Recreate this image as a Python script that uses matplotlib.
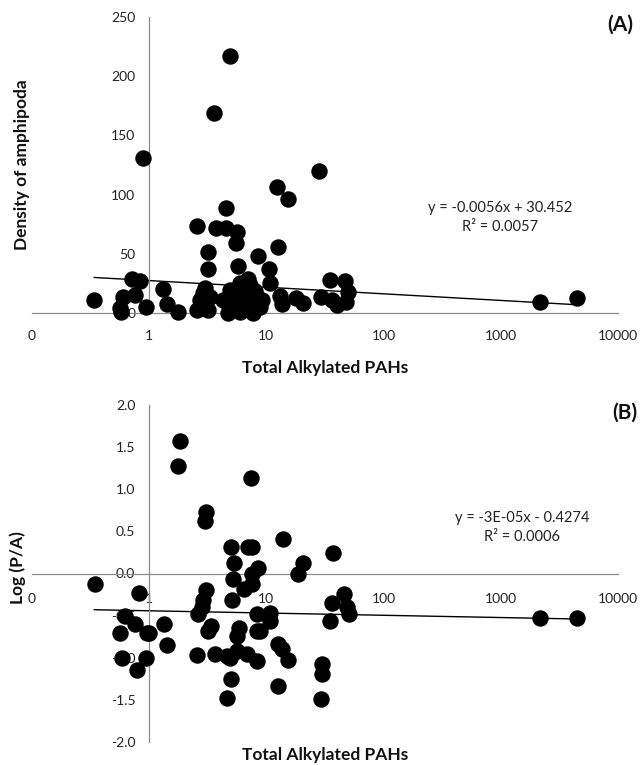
import matplotlib
matplotlib.use("Agg")
import matplotlib.pyplot as plt
import numpy as np

plt.rcParams['font.family'] = ['Lato', 'DejaVu Sans']

# ---------------- Panel A data ----------------
a_x = [0.34, 0.56, 0.58, 0.60, 0.72, 0.76, 0.83, 0.88, 0.94, 1.31, 1.41, 1.77,
       2.55, 2.7, 2.9, 3.16, 3.16, 3.56, 3.7, 4.5, 4.5, 4.9, 5.6, 5.5, 5.7, 6.9,
       8.5, 10.5, 10.7, 12.5, 12.3, 15.2, 28, 13.0, 13.5, 18, 20.5, 29, 35, 36,
       40, 47, 50, 48, 2140, 4430,
       2.99, 2.7, 2.55, 3.3, 3.16,
       4.9, 5.6, 7.2, 8.3, 7.65, 4.7, 6.3, 8.8, 4.3, 6.6, 8.0, 5.9, 9.1, 5.3,
       6.0, 7.0, 7.5, 6.5, 8.5, 7.3]
a_y = [11, 4, 1, 13.5, 28.7, 15, 27, 131, 5, 20, 8, 1,
       73.5, 4, 17, 51.5, 37, 169, 72, 72, 88.7, 217, 68.4, 59, 39.7, 28.7,
       48, 37, 25, 55.7, 106.5, 96, 120, 14, 8, 12.7, 8.4, 13.5, 28, 11,
       6.8, 27, 17.7, 9.3, 9.3, 12.7,
       21, 11, 2.5, 13.5, 2.5,
       19.4, 5, 11, 13.5, 0, 0, 22, 5, 11, 11, 19, 1, 11, 13.5,
       25, 20, 15, 3, 8, 24]
a_trend_x = [0.34, 4430]
a_trend_y = [30, 7]
a_yticks = [0, 50, 100, 150, 200, 250]

# ---------------- Panel B data ----------------
b_x = [0.344, 0.82, 0.62, 0.76, 0.56, 0.95, 1.0, 1.33, 1.41, 0.59, 0.93, 0.79,
       1.83, 1.76, 3.04, 3.0, 3.04, 2.86, 2.8, 2.6, 3.4, 3.17, 2.55, 3.63, 4.6,
       4.9, 4.97, 5.25, 5.2, 5.07, 5.0, 4.6, 5.8, 5.6, 5.6, 6.8, 6.9, 7.6, 7.4,
       8.5, 7.6, 6.5, 7.5, 8.3, 10.7, 10.7, 8.3, 8.8, 8.3, 13.8, 12.5, 13.5,
       15.3, 12.6, 20.4, 18.6, 29.7, 30, 29, 36.8, 46, 36, 49, 51, 35, 2140, 4430]
b_y = [-0.13, -0.23, -0.5, -0.6, -0.71, -0.71, -0.71, -0.6, -0.85, -1.0, -1.0, -1.15,
       1.57, 1.28, 0.73, 0.62, -0.2, -0.32, -0.4, -0.48, -0.62, -0.68, -0.97, -0.96, -0.98,
       -1.0, 0.31, 0.12, -0.07, -0.32, -1.25, -1.48, -0.65, -0.74, -0.92, -0.95, 0.31, 0.31, 1.13,
       0.07, 0.0, -0.18, -0.12, -0.48, -0.47, -0.56, -0.68, -0.68, -1.04, 0.41, -0.84, -0.9,
       -1.03, -1.34, 0.12, 0.0, -1.08, -1.19, -1.49, 0.24, -0.24, -0.35, -0.4, -0.48, -0.56, -0.53, -0.53]
b_trend_x = [0.34, 4430]
b_trend_y = [-0.43, -0.54]
b_yticks = [-2.0, -1.5, -1.0, -0.5, 0.0, 0.5, 1.0, 1.5, 2.0]

x_ticks = [0.1, 1, 10, 100, 1000, 10000]
x_ticklabels = ["0", "1", "10", "100", "1000", "10000"]

W, H = 640, 765
fig = plt.figure(figsize=(W / 100, H / 100), dpi=100)

def px_axes(x0, x1, ytop, ybot):
    return fig.add_axes([x0 / W, 1 - ybot / H, (x1 - x0) / W, (ybot - ytop) / H])

axis_col = '#8a8a8a'
tick_col = '#222222'
MS = 140

def style(ax, xpad):
    ax.set_xscale('log')
    ax.set_xlim(0.1, 10000)
    for s in ['top', 'right']:
        ax.spines[s].set_visible(False)
    ax.spines['left'].set_position(('data', 1))
    ax.spines['bottom'].set_position(('data', 0))
    for s in ['left', 'bottom']:
        ax.spines[s].set_color(axis_col)
        ax.spines[s].set_linewidth(0.9)
    ax.set_xticks(x_ticks)
    ax.set_xticklabels(x_ticklabels)
    ax.xaxis.set_minor_locator(matplotlib.ticker.NullLocator())
    ax.tick_params(axis='both', length=0, labelsize=10, colors=tick_col)
    ax.tick_params(axis='x', pad=xpad)
    ax.tick_params(axis='y', pad=10)
    ax.patch.set_alpha(0)

# Panel A
axA = px_axes(32, 618, 17, 313)
style(axA, 12)
axA.set_ylim(0, 250)
axA.set_yticks(a_yticks)
axA.set_yticklabels([f"{v:d}" for v in a_yticks])
axA.scatter(a_x, a_y, s=MS, c='black', zorder=3, clip_on=False, linewidths=0)
axA.plot(a_trend_x, a_trend_y, color='black', lw=1.0, zorder=2)
axA.text(0.799, 0.355, "y = -0.0056x + 30.452", transform=axA.transAxes,
         ha='center', va='center', fontsize=10.5, color=tick_col)
axA.text(0.799, 0.29, "R² = 0.0057", transform=axA.transAxes,
         ha='center', va='center', fontsize=10.5, color=tick_col)

# Panel B
axB = px_axes(32, 618, 405, 742)
style(axB, 14)
axB.set_ylim(-2.0, 2.0)
axB.set_yticks(b_yticks)
axB.set_yticklabels([f"{v:.1f}" for v in b_yticks])
axB.scatter(b_x, b_y, s=MS, c='black', zorder=3, clip_on=False, linewidths=0)
axB.plot(b_trend_x, b_trend_y, color='black', lw=1.0, zorder=2)
axB.text(0.836, 0.665, "y = -3E-05x - 0.4274", transform=axB.transAxes,
         ha='center', va='center', fontsize=10.5, color=tick_col)
axB.text(0.836, 0.608, "R² = 0.0006", transform=axB.transAxes,
         ha='center', va='center', fontsize=10.5, color=tick_col)

# Titles / axis labels
lab = dict(fontsize=12.5, fontweight='bold', color='#111111')
fig.text(325 / W, 1 - 368 / H, "Total Alkylated PAHs", ha='center', va='center', **lab)
fig.text(22 / W, 1 - 165 / H, "Density of amphipoda", ha='center', va='center', rotation=90, **lab)
fig.text(325 / W, 1 - 755 / H, "Total Alkylated PAHs", ha='center', va='center', **lab)
fig.text(18 / W, 1 - 568 / H, "Log (P/A)", ha='center', va='center', rotation=90, **lab)
fig.text(633 / W, 1 - 25 / H, "(A)", ha='right', va='center', fontsize=15, fontweight='bold', color='#111111')
fig.text(637 / W, 1 - 413 / H, "(B)", ha='right', va='center', fontsize=15, fontweight='bold', color='#111111')

fig.savefig("out.png", dpi=100)
